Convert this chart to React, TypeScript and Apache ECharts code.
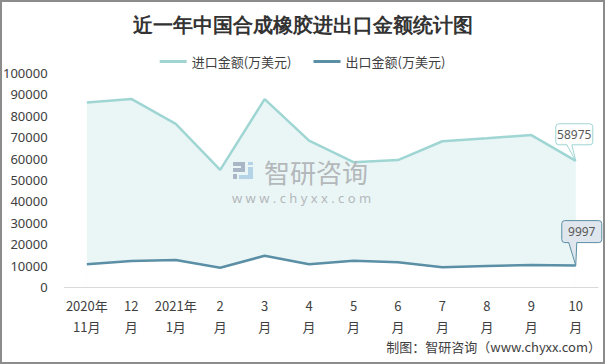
import React, { useEffect, useRef } from "react";
import * as echarts from "echarts";

const categories = [
  "2020年\n11月", "12\n月", "2021年\n1月", "2\n月", "3\n月", "4\n月",
  "5\n月", "6\n月", "7\n月", "8\n月", "9\n月", "10\n月",
];
const importValues = [86200, 87900, 76200, 54700, 87800, 68400, 58300, 59300, 68100, 69500, 71000, 58975];
const exportValues = [10600, 12200, 12600, 9000, 14600, 10600, 12300, 11600, 9200, 9800, 10300, 9997];
const seriesNames = ["进口金额(万美元)", "出口金额(万美元)"];
const titleText = "近一年中国合成橡胶进出口金额统计图";
const sourceText = "制图：智研咨询（www.chyxx.com）";

const IMP = "#9fd6d3";
const EXP = "#5a8fa5";

export default function App() {
  const ref = useRef<HTMLDivElement>(null);
  useEffect(() => {
    document.body.style.margin = "0";
    const chart = echarts.init(ref.current!, null, { renderer: "svg" });
    const last = categories.length - 1;
    const calloutData = [
      [last, importValues[last], 0],
      [last, exportValues[last], 1],
    ];
    const wm = "#b4b8bb";
    chart.setOption({
      animation: false,
      backgroundColor: "#fff",
      title: {
        text: titleText,
        left: "center",
        top: 10,
        textStyle: { fontSize: 20, fontWeight: "bold", color: "#333", fontFamily: "serif" },
      },
      legend: {
        data: seriesNames,
        top: 50,
        left: "center",
        icon: "rect",
        itemWidth: 27,
        itemHeight: 3,
        itemGap: 22,
        textStyle: { fontSize: 13, color: "#404040", fontFamily: "Noto Sans CJK SC" },
      },
      grid: { left: 63, right: 7, top: 73, bottom: 77 },
      xAxis: {
        type: "category",
        data: categories,
        boundaryGap: true,
        axisLine: { lineStyle: { color: "#d9d9d9" } },
        axisTick: { show: false },
        axisLabel: {
          interval: 0,
          margin: 8,
          fontSize: 13,
          lineHeight: 21,
          color: "#404040",
          fontFamily: "Noto Sans CJK SC",
        },
      },
      yAxis: {
        type: "value",
        min: 0,
        max: 100000,
        interval: 10000,
        axisLine: { show: false },
        axisTick: { show: false },
        splitLine: { show: false },
        axisLabel: {
          margin: 17,
          fontSize: 13,
          color: "#404040",
          fontFamily: "Noto Sans",
          formatter: (v: number) => String(v),
        },
      },
      series: [
        {
          name: seriesNames[0],
          type: "line",
          data: importValues,
          symbol: "none",
          lineStyle: { color: IMP, width: 2.5 },
          itemStyle: { color: IMP },
          areaStyle: { color: "#eaf6f6", opacity: 1 },
          z: 2,
        },
        {
          name: seriesNames[1],
          type: "line",
          data: exportValues,
          symbol: "none",
          lineStyle: { color: EXP, width: 2.5 },
          itemStyle: { color: EXP },
          areaStyle: { color: "#ffffff", opacity: 1 },
          z: 3,
        },
        {
          name: "callouts",
          type: "custom",
          data: calloutData,
          clip: false,
          silent: true,
          z: 10,
          renderItem: (params: any, api: any) => {
            const kind = api.value(2);
            const v = api.value(1);
            const p = api.coord([api.value(0), v]);
            const cfg =
              kind === 0
                ? { dx: -20, dy: -37, w: 37, h: 21, t1: -9, t2: -4, border: IMP, bg: "#ffffff" }
                : { dx: -14, dy: -45, w: 40, h: 22, t1: -7, t2: 1, border: EXP, bg: "#dfe6ed" };
            const bx = p[0] + cfg.dx;
            const by = p[1] + cfg.dy;
            const bottom = by + cfg.h;
            return {
              type: "group",
              children: [
                {
                  type: "rect",
                  shape: { x: bx, y: by, width: cfg.w, height: cfg.h, r: 3 },
                  style: { fill: cfg.bg, stroke: cfg.border, lineWidth: 1 },
                },
                {
                  type: "polygon",
                  shape: {
                    points: [
                      [p[0] + cfg.t1, bottom - 1],
                      [p[0] + cfg.t2, bottom - 1],
                      [p[0], p[1]],
                    ],
                  },
                  style: { fill: cfg.bg, stroke: "none" },
                },
                {
                  type: "polyline",
                  shape: {
                    points: [
                      [p[0] + cfg.t1, bottom],
                      [p[0], p[1]],
                      [p[0] + cfg.t2, bottom],
                    ],
                  },
                  style: { fill: "none", stroke: cfg.border, lineWidth: 1 },
                },
                {
                  type: "text",
                  style: {
                    x: bx + cfg.w / 2,
                    y: by + cfg.h / 2,
                    text: String(v),
                    align: "center",
                    verticalAlign: "middle",
                    fontSize: 12,
                    fill: "#595959",
                    fontFamily: "Noto Sans",
                  },
                },
              ],
            };
          },
        },
      ],
      graphic: [
        {
          type: "rect",
          shape: { x: 1, y: 1, width: 603, height: 362 },
          style: { fill: "none", stroke: "#8c8c8c", lineWidth: 2 },
          silent: true,
          z: 100,
        },
        { type: "rect", z: 50, silent: true, shape: { x: 233, y: 162, width: 12, height: 4 }, style: { fill: "#a8b6c6" } },
        { type: "rect", z: 50, silent: true, shape: { x: 241, y: 162, width: 4, height: 10 }, style: { fill: "#a8b6c6" } },
        { type: "rect", z: 50, silent: true, shape: { x: 233, y: 168, width: 10, height: 4 }, style: { fill: "#a8b6c6" } },
        { type: "rect", z: 50, silent: true, shape: { x: 233, y: 174, width: 4, height: 5 }, style: { fill: "#a8b6c6" } },
        { type: "rect", z: 50, silent: true, shape: { x: 248, y: 162, width: 5, height: 3 }, style: { fill: "#b5d3e6" } },
        { type: "rect", z: 50, silent: true, shape: { x: 248, y: 167, width: 5, height: 12 }, style: { fill: "#b5d3e6" } },
        { type: "rect", z: 50, silent: true, shape: { x: 239, y: 175, width: 10, height: 4 }, style: { fill: "#b5d3e6" } },
        {
          type: "text",
          z: 50,
          silent: true,
          x: 264,
          y: 158,
          style: {
            text: "智研咨询",
            fontSize: 26,
            lineHeight: 26,
            fill: wm,
            fontFamily: "Noto Sans CJK SC",
          },
        },
        {
          type: "text",
          z: 50,
          silent: true,
          x: 232,
          y: 191,
          style: {
            text: "w w w . c h y x x . c o m",
            fontSize: 13,
            lineHeight: 13,
            fill: wm,
            fontFamily: "Noto Sans",
          },
        },
        {
          type: "text",
          right: 4,
          top: 340,
          style: {
            text: sourceText,
            fontSize: 13,
            fill: "#404040",
            fontFamily: "Noto Sans CJK SC",
          },
          z: 100,
        },
      ],
    });
    return () => chart.dispose();
  }, []);
  return <div ref={ref} style={{ width: 605, height: 364 }} />;
}
